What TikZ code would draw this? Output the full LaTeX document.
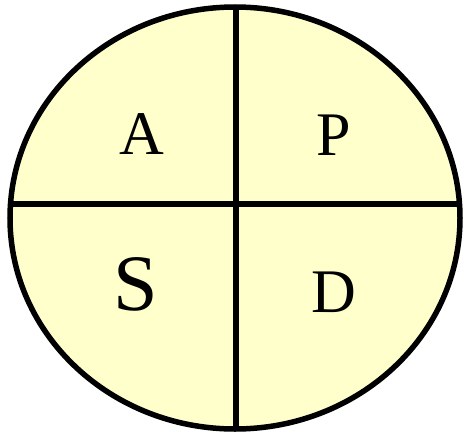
\documentclass[tikz,border=0pt]{standalone}
\usepackage{fontspec}
\setmainfont{Liberation Serif}
\definecolor{pale}{RGB}{255,255,204}
\tikzset{
  outline/.style={draw=black, line width=5.5pt},
  letter/.style={font=\fontsize{62}{62}\selectfont, text=black, inner sep=0pt, anchor=center}
}
\begin{document}
\begin{tikzpicture}[x=1pt,y=-1pt]
\useasboundingbox (0,0) rectangle (463,431);
\fill[pale] (235,218) ellipse [x radius=225, y radius=211];
\begin{scope}
  \clip (235,218) ellipse [x radius=225, y radius=211];
  \draw[outline] (236,0) -- (236,431);
  \draw[outline] (0,204) -- (463,204);
\end{scope}
\draw[outline] (235,218) ellipse [x radius=225, y radius=211];
\node[letter] (A) at (142,134) {A};
\node[letter] (P) at (334,135) {P};
\node[letter, font=\fontsize{80}{80}\selectfont] (S) at (136,284) {S};
\node[letter] (D) at (334,292) {D};
\end{tikzpicture}
\end{document}
